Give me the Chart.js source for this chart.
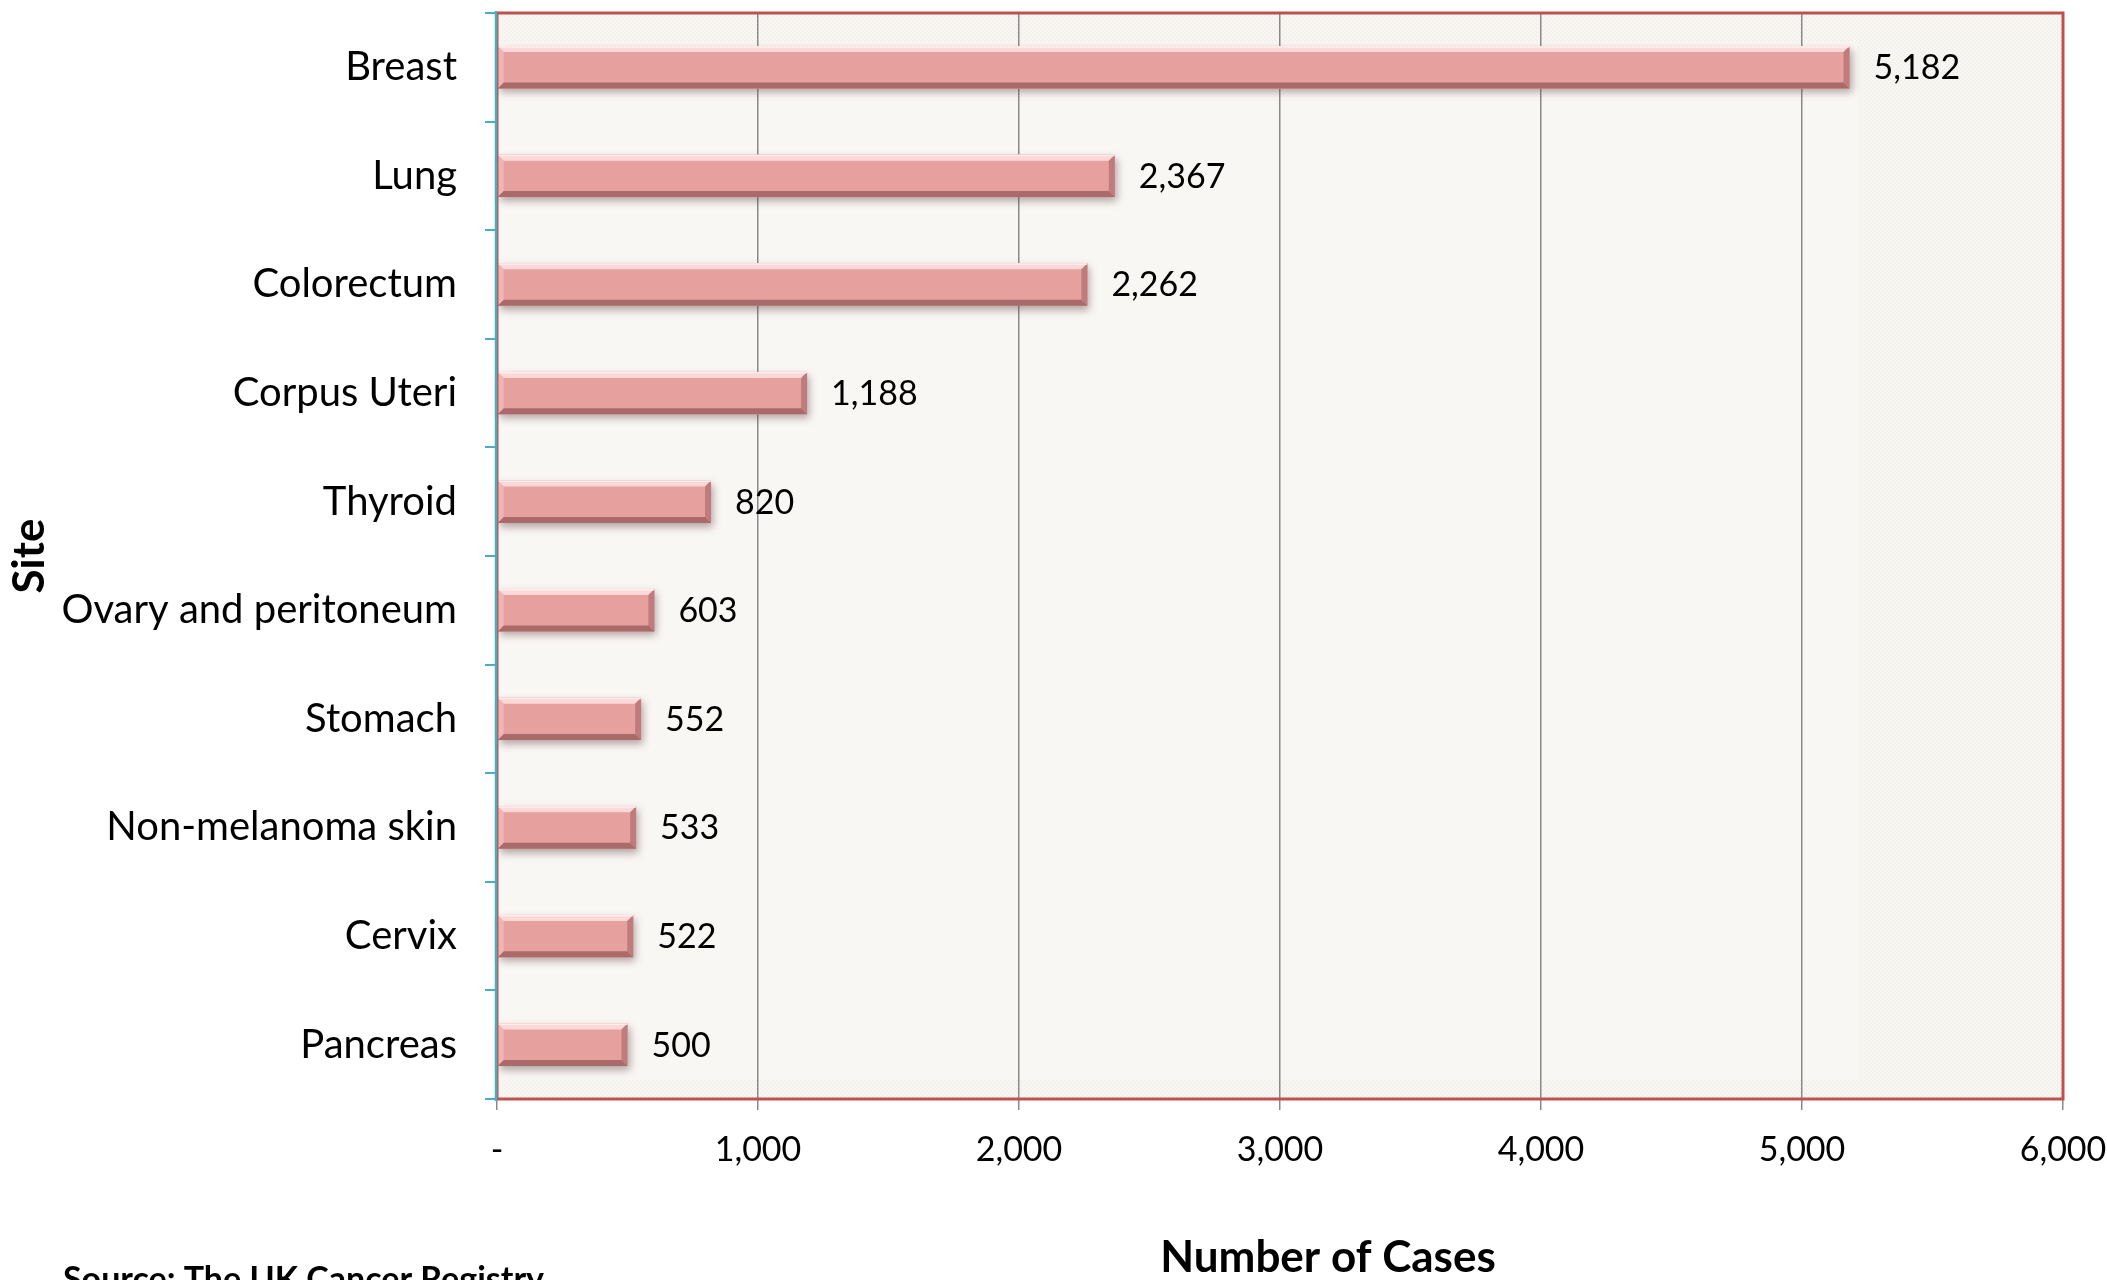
<!DOCTYPE html>
<html lang="en">
<head>
<meta charset="UTF-8">
<title>Number of Cases by Site</title>
<style>
  body { margin: 0; padding: 0; background: #fff; }
  #chart { display: block; }
</style>
</head>
<body>
<canvas id="chart" width="2107" height="1280"></canvas>
<script src="https://cdn.jsdelivr.net/npm/chart.js"></script>
<script>
  const sites = ['Breast', 'Lung', 'Colorectum', 'Corpus Uteri', 'Thyroid',
    'Ovary and peritoneum', 'Stomach', 'Non-melanoma skin', 'Cervix', 'Pancreas'];
  const cases = [5182, 2367, 2262, 1188, 820, 603, 552, 533, 522, 500];
  const xTicks = [0, 1000, 2000, 3000, 4000, 5000, 6000];
  const xTitle = 'Number of Cases';
  const sourceNote = 'Source: The UK Cancer Registry';

  const fmt = v => v === 0 ? '-' : v.toLocaleString('en-US');

  // small dotted fill like the office plot area texture
  function dotPattern(ctx) {
    const c = document.createElement('canvas');
    c.width = 4; c.height = 4;
    const p = c.getContext('2d');
    p.fillStyle = '#F8F6F2';
    p.fillRect(0, 0, 4, 4);
    p.fillStyle = '#ECE8E2';
    p.fillRect(0, 0, 1, 1);
    p.fillRect(2, 2, 1, 1);
    return ctx.createPattern(c, 'repeat');
  }

  // drop the label overhang padding so the plot area sits where the original does
  const noPad = scale => {
    scale.paddingTop = 0; scale.paddingBottom = 0;
    scale.paddingLeft = 0; scale.paddingRight = 0;
  };

  function quad(ctx, pts, color) {
    ctx.fillStyle = color;
    ctx.beginPath();
    ctx.moveTo(pts[0][0], pts[0][1]);
    for (let k = 1; k < pts.length; k++) ctx.lineTo(pts[k][0], pts[k][1]);
    ctx.closePath();
    ctx.fill();
  }

  const plotDecor = {
    id: 'plotDecor',
    beforeDraw(chart) {
      const {ctx, chartArea: a} = chart;
      ctx.save();
      ctx.fillStyle = dotPattern(ctx);
      ctx.fillRect(a.left, a.top, a.right - a.left, a.bottom - a.top);
      ctx.fillStyle = '#F9F7F4';
      const innerRight = a.left + (a.right - a.left) * 0.869;
      ctx.fillRect(a.left, a.top + 28, innerRight - a.left, a.bottom - a.top - 47);
      ctx.restore();
    },
    beforeDatasetsDraw(chart) {
      // soft shadow under and right of each bar
      const {ctx} = chart;
      ctx.save();
      ctx.shadowColor = 'rgba(90,60,60,0.45)';
      ctx.shadowBlur = 8;
      ctx.shadowOffsetX = 2;
      ctx.shadowOffsetY = 4;
      ctx.fillStyle = '#E6A19F';
      chart.getDatasetMeta(0).data.forEach(bar => {
        ctx.fillRect(bar.base, bar.y - bar.height / 2, bar.x - bar.base, bar.height);
      });
      ctx.restore();
    },
    afterDatasetsDraw(chart) {
      const {ctx} = chart;
      ctx.save();
      chart.getDatasetMeta(0).data.forEach((bar, i) => {
        const t = bar.y - bar.height / 2;
        const b = bar.y + bar.height / 2;
        const l = bar.base, r = bar.x;
        const w = 6;
        // bevelled frame: light top/left, dark bottom/right
        quad(ctx, [[l, t], [r, t], [r - w, t + w], [l + w, t + w]], 'rgba(255,226,226,0.85)');
        quad(ctx, [[l, t], [l + w, t + w], [l + w, b - w], [l, b]], 'rgba(250,205,205,0.45)');
        quad(ctx, [[l, b], [l + w, b - w], [r - w, b - w], [r, b]], 'rgba(150,88,88,0.75)');
        quad(ctx, [[r, t], [r, b], [r - w, b - w], [r - w, t + w]], 'rgba(160,95,95,0.55)');
        ctx.fillStyle = 'rgba(255,240,240,0.9)';
        ctx.fillRect(l, t, r - l, 1.5);
        // value label
        ctx.fillStyle = '#000';
        ctx.font = '34px Lato';
        ctx.textAlign = 'left';
        ctx.textBaseline = 'middle';
        ctx.fillText(fmt(cases[i]), r + 24, bar.y + 1);
      });
      ctx.restore();
    },
    afterDraw(chart) {
      const {ctx, chartArea: a} = chart;
      ctx.save();
      ctx.strokeStyle = '#C0504D';
      ctx.lineWidth = 3;
      ctx.strokeRect(a.left, a.top, a.right - a.left, a.bottom - a.top);
      ctx.strokeStyle = '#4BACC6';
      ctx.lineWidth = 2.5;
      ctx.beginPath();
      ctx.moveTo(a.left - 1, a.top - 2);
      ctx.lineTo(a.left - 1, a.bottom + 2);
      ctx.stroke();
      // x axis title, a little right of centre as in the original
      ctx.fillStyle = '#000';
      ctx.font = 'bold 44px Lato';
      ctx.textAlign = 'center';
      ctx.textBaseline = 'middle';
      ctx.fillText(xTitle, (a.left + a.right) / 2 + 48, chart.height - 22);
      // source note at the bottom-left (cut by the edge as in the original)
      ctx.font = 'bold 34px Lato';
      ctx.textAlign = 'left';
      ctx.textBaseline = 'alphabetic';
      ctx.fillText(sourceNote, 63, 1291);
      ctx.restore();
    }
  };

  new Chart(document.getElementById('chart'), {
    type: 'bar',
    data: {
      labels: sites,
      datasets: [{
        data: cases,
        backgroundColor: '#E6A19F',
        borderWidth: 0,
        categoryPercentage: 1,
        barPercentage: 0.39
      }]
    },
    options: {
      indexAxis: 'y',
      responsive: false,
      animation: false,
      devicePixelRatio: 1,
      layout: { padding: { top: 13, right: 44, left: 0, bottom: 0 } },
      plugins: {
        legend: { display: false },
        tooltip: { enabled: false }
      },
      scales: {
        x: {
          min: 0,
          max: 6000,
          afterBuildTicks: scale => { scale.ticks = xTicks.map(v => ({ value: v })); },
          afterFit: scale => { scale.height = 181; noPad(scale); },
          grid: { color: '#8A8A8A', lineWidth: 1.5, tickLength: 11, tickColor: '#8A8A8A' },
          border: { display: false },
          ticks: {
            color: '#000',
            font: { family: 'Lato', size: 34 },
            padding: 20,
            maxRotation: 0,
            callback: v => fmt(v)
          }
        },
        y: {
          afterFit: scale => { scale.width = 497; noPad(scale); },
          grid: { offset: true, drawOnChartArea: false, tickLength: 12, tickColor: '#4BACC6', lineWidth: 2 },
          border: { display: false },
          ticks: {
            color: '#000',
            font: { family: 'Lato', size: 40 },
            padding: 28
          },
          title: {
            display: true,
            text: 'Site',
            color: '#000',
            font: { family: 'Lato', size: 44, weight: 'bold', lineHeight: 1 },
            padding: { top: 8, bottom: 0 }
          }
        }
      }
    },
    plugins: [plotDecor]
  });
</script>
</body>
</html>
